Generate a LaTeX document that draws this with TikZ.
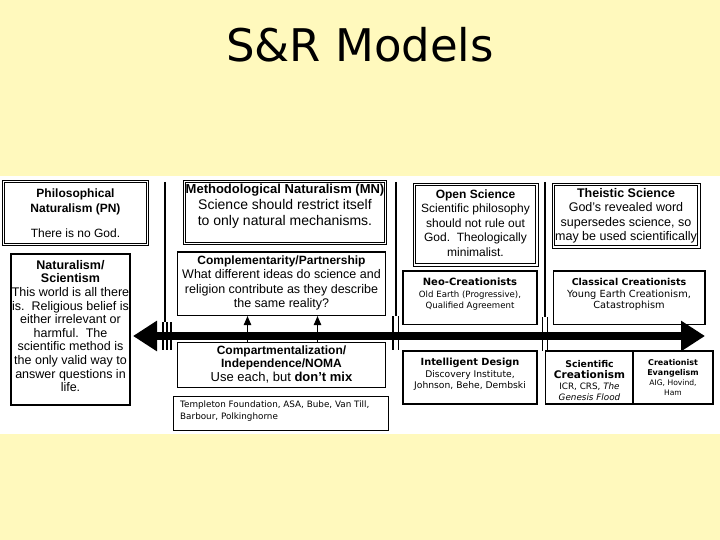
\documentclass[tikz,border=0pt]{standalone}
\usepackage{fontspec}
\setmainfont{Liberation Sans}
\newfontfamily\vd{DejaVu Sans}
\usetikzlibrary{arrows.meta,fit}
\definecolor{bgy}{RGB}{255,249,189}
\newcommand\fsz[2]{\fontsize{#1}{#2}\selectfont}
\begin{document}
\begin{tikzpicture}[x=1pt,y=-1pt,
  sbox/.style={draw, line width=1.2pt, inner sep=0pt},
  dbox/.style={draw, double, line width=0.9pt, double distance=1.6pt, inner sep=0pt},
  txt/.style={inner sep=0pt, align=center},
  divl/.style={line width=1.1pt},
  bigarrow/.style={line width=8pt, {Triangle[length=24pt,width=29pt]}-{Triangle[length=24pt,width=29pt]}},
  uparrow/.style={line width=0.9pt, -{Triangle[length=9pt,width=7.5pt]}}
]
\useasboundingbox (0,0) rectangle (720,540);
\fill[bgy] (0,0) rectangle (720,540);
\fill[white] (0,176) rectangle (720,434);

\node[anchor=base, font=\vd\fsz{45}{50}] (title) at (360,62) {S\&R Models};

% boxes
\node[dbox, fit={(3.5,181.5) (147.5,244.5)}] (pn) {};
\node[sbox, fit={(11,254) (130,405)}] (ns) {};
\node[dbox, fit={(184.5,181.5) (385.5,243.5)}] (mn) {};
\node[sbox, fit={(177.5,252) (385.5,315.5)}] (cp) {};
\node[sbox, fit={(177.5,342.5) (385.5,387.5)}] (cm) {};
\node[sbox, line width=1pt, fit={(173,396.5) (388,430.5)}] (tf) {};
\node[dbox, fit={(414.5,184.5) (537,265)}] (os) {};
\node[dbox, fit={(553.5,184.5) (699,247)}] (ts) {};
\node[sbox, fit={(403,271) (537,324.5)}] (nc) {};
\node[sbox, fit={(553.5,271) (705,324.5)}] (cc) {};
\node[sbox, fit={(403,351) (537,404)}] (id) {};
\node[sbox, fit={(545.5,351) (633,404)}] (sc) {};
\node[sbox, fit={(633,351) (713,404)}] (ce) {};

% texts
\node[txt, font=\fsz{12}{15}] (pnT) at (75.5,213)
  {{\bfseries Philosophical}\\{\bfseries Naturalism (PN)}\\[10pt]There is no God.};
\node[txt, font=\fsz{12.5}{13.6}] (nsT) at (70.5,326)
  {{\bfseries Naturalism/}\\{\bfseries Scientism}\\This world is all there\\is.\ \ Religious belief is\\either irrelevant or\\harmful.\ \ The\\scientific method is\\the only valid way to\\answer questions in\\life.};
\node[txt, font=\fsz{14}{16}] (mnT) at (285,206)
  {{\fsz{13}{16}\bfseries Methodological Naturalism (MN)}\\Science should restrict itself\\to only natural mechanisms.};
\node[txt, font=\fsz{12.5}{14.5}] (cpT) at (281.5,283)
  {{\fsz{12}{14.5}\bfseries Complementarity/Partnership}\\What different ideas do science and\\religion contribute as they describe\\the same reality?};
\node[txt, font=\fsz{12}{13.5}] (cmT) at (281.5,364)
  {{\bfseries Compartmentalization/}\\{\bfseries Independence/NOMA}\\{\fsz{13}{13.5}Use each, but \textbf{don't mix}}};
\node[txt, align=left, anchor=west, font=\vd\fsz{8.8}{12}] (tfT) at (180,411.5)
  {Templeton Foundation, ASA, Bube, Van Till,\\Barbour, Polkinghorne};
\node[txt, font=\fsz{12}{14.5}] (osT) at (475.5,223)
  {{\bfseries Open Science}\\Scientific philosophy\\should not rule out\\God.\ \ Theologically\\minimalist.};
\node[txt, font=\fsz{12.5}{14.5}] (tsT) at (626,216)
  {{\bfseries Theistic Science}\\God's revealed word\\supersedes science, so\\may be used scientifically};
\node[txt, font=\vd\fsz{8.6}{11.5}] (ncT) at (470,294.5)
  {{\fsz{10}{11.5}\bfseries Neo-Creationists}\\Old Earth (Progressive),\\Qualified Agreement};
\node[txt, font=\vd\fsz{9.8}{11.5}] (ccT) at (629,294.5)
  {{\fsz{9.5}{11.5}\bfseries Classical Creationists}\\Young Earth Creationism,\\Catastrophism};
\node[txt, font=\vd\fsz{9.2}{11.5}] (idT) at (470,374.5)
  {{\fsz{9.8}{11.5}\bfseries Intelligent Design}\\Discovery Institute,\\Johnson, Behe, Dembski};
\node[txt, font=\vd\fsz{8.8}{11}] (scT) at (589.5,381)
  {{\fsz{9.3}{11}\bfseries Scientific}\\{\fsz{10.5}{13}\bfseries Creationism}\\ICR, CRS, \textit{The}\\\textit{Genesis Flood}};
\node[txt, font=\vd\fsz{7.6}{10}] (ceT) at (673,377.5)
  {{\fsz{8}{10}\bfseries Creationist}\\{\fsz{8}{11}\bfseries Evangelism}\\AIG, Hovind,\\Ham};

% dividers
\draw[divl] (165,182) -- (165,322);
\draw[divl] (163,322) -- (163,350) (167,322) -- (167,350) (171,322) -- (171,350);
\draw[divl] (396,182) -- (396,316);
\draw[divl] (393,316) -- (393,350) (398.5,316) -- (398.5,350);
\draw[divl] (545,182) -- (545,317);
\draw[divl] (542.5,317) -- (542.5,351) (547.5,317) -- (547.5,351);

% main arrow
\coordinate (aL) at (133,336);
\coordinate (aR) at (705,336);
\draw[bigarrow] (aL) -- (aR);

% small arrows
\draw[uparrow] ([xshift=-34pt]cm.north) -- ([xshift=-34pt]cp.south);
\draw[uparrow] ([xshift=36pt]cm.north) -- ([xshift=36pt]cp.south);
\end{tikzpicture}
\end{document}
